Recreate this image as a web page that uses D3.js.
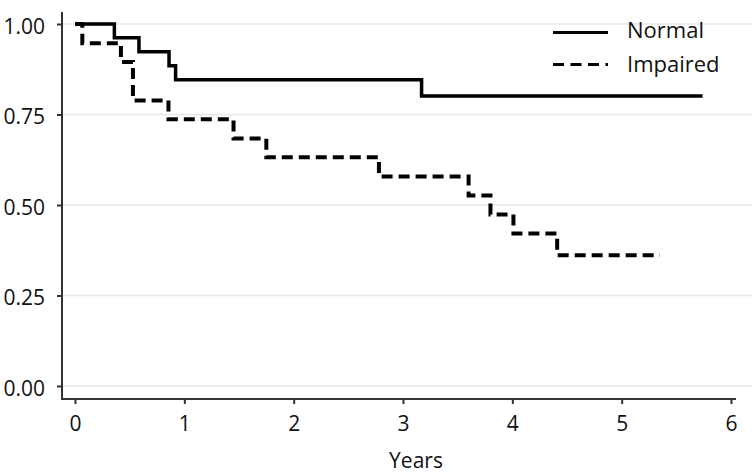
<!DOCTYPE html>
<html><head><meta charset="utf-8">
<script src="https://cdn.jsdelivr.net/npm/d3@7"></script>
<style>body{margin:0;background:#fff}svg{display:block}text{font-family:"Open Sans","Noto Sans",sans-serif;fill:#111}</style>
</head><body><svg id="c" width="753" height="476"></svg>
<script>
// Kaplan-Meier step data (time in years, survival)
const normalTimes = [0, 0.36, 0.585, 0.86, 0.92, 3.17, 5.74];
const normalSurv  = [1.00, 0.962, 0.923, 0.885, 0.846, 0.801, 0.801];
const impairedTimes = [0, 0.067, 0.42, 0.53, 0.855, 1.45, 1.75, 2.78, 3.60, 3.80, 4.01, 4.41, 5.35];
const impairedSurv  = [1.00, 0.947, 0.895, 0.789, 0.737, 0.684, 0.632, 0.579, 0.526, 0.474, 0.421, 0.361, 0.361];
const xTicks = [0,1,2,3,4,5,6];
const yTicks = [0,0.25,0.5,0.75,1];
const legendLabels = ["Normal","Impaired"];
const xLabel = "Years";

const svg = d3.select("#c");
const x = d3.scaleLinear().domain([0,6]).range([75,731]);
const y = d3.scaleLinear().domain([0,1]).range([386,24]);

// gridlines
svg.append("g").selectAll("line").data(yTicks).join("line")
  .attr("x1",62).attr("x2",752).attr("y1",d=>y(d)).attr("y2",d=>y(d))
  .attr("stroke","#e6e6e6").attr("stroke-width",1.5);

// axes
const yAxis = svg.append("g").attr("transform","translate(62,0)")
  .call(d3.axisLeft(y).tickValues(yTicks).tickFormat(d3.format(".2f")).tickSize(5).tickSizeOuter(0).tickPadding(12));
const xAxis = svg.append("g").attr("transform","translate(0,399)")
  .call(d3.axisBottom(x).tickValues(xTicks).tickFormat(d3.format("d")).tickSize(5).tickSizeOuter(0).tickPadding(12));
[yAxis,xAxis].forEach(a=>{
  a.select(".domain").remove();
  a.selectAll(".tick line").attr("stroke","#333").attr("stroke-width",2);
  a.selectAll(".tick text").attr("font-size",21).attr("fill","#111");
});
yAxis.selectAll(".tick text").attr("dy","0.45em");
svg.append("line").attr("x1",62).attr("x2",62).attr("y1",12).attr("y2",400).attr("stroke","#333").attr("stroke-width",2);
svg.append("line").attr("x1",61).attr("x2",736).attr("y1",399).attr("y2",399).attr("stroke","#333").attr("stroke-width",2);

svg.append("text").attr("x",416).attr("y",468).attr("text-anchor","middle").attr("font-size",21).text(xLabel);

// curves
const line = d3.line().x(d=>x(d[0])).y(d=>y(d[1])).curve(d3.curveStepAfter);
const nData = normalTimes.map((t,i)=>[t,normalSurv[i]]);
const iData = impairedTimes.map((t,i)=>[t,impairedSurv[i]]);
svg.append("path").attr("d",line(iData)).attr("fill","none").attr("stroke","#000")
  .attr("stroke-width",4).attr("stroke-dasharray","11,6");
svg.append("path").attr("d",line(nData)).attr("fill","none").attr("stroke","#000")
  .attr("stroke-width",3.5);

// legend
const lg = svg.append("g");
lg.append("line").attr("x1",553).attr("x2",608).attr("y1",32.5).attr("y2",32.5).attr("stroke","#000").attr("stroke-width",3);
lg.append("line").attr("x1",553).attr("x2",608).attr("y1",64.5).attr("y2",64.5).attr("stroke","#000").attr("stroke-width",3).attr("stroke-dasharray","11,6.5");
lg.append("text").attr("x",627).attr("y",38).attr("font-size",22).text(legendLabels[0]);
lg.append("text").attr("x",627).attr("y",71.5).attr("font-size",22).text(legendLabels[1]);
</script></body></html>
